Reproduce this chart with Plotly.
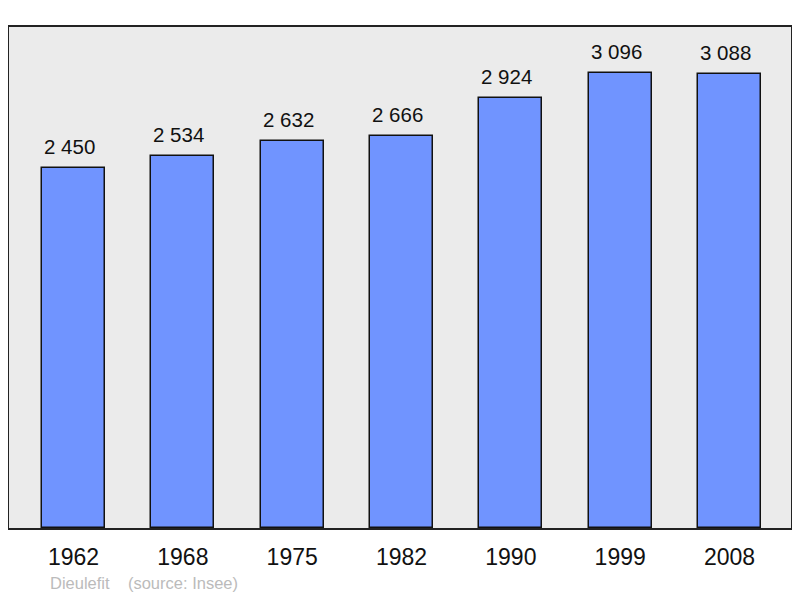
import plotly.graph_objects as go

years = ["1962", "1968", "1975", "1982", "1990", "1999", "2008"]
population = [2450, 2534, 2632, 2666, 2924, 3096, 3088]
value_labels = ["2 450", "2 534", "2 632", "2 666", "2 924", "3 096", "3 088"]
commune = "Dieulefit"
source = "(source: Insee)"

fig = go.Figure()
fig.add_trace(go.Bar(
    x=years, y=population, width=0.575,
    marker=dict(color="#7094ff", line=dict(color="#111111", width=1.5)),
    hoverinfo="skip",
))

# value labels above the bars (category axis -> use the serial index)
for i, (val, lab) in enumerate(zip(population, value_labels)):
    fig.add_annotation(x=i, y=val, text=lab, showarrow=False,
                       yanchor="bottom", yshift=8, xshift=-4,
                       font=dict(size=20.5, color="#111111"))

# page body has an 8px margin, so the figure is 792x590 placed at (8, 8)
fig.add_annotation(xref="paper", yref="paper", x=(48 - 9) / 782, y=-0.088,
                   xanchor="left", yanchor="top", showarrow=False,
                   text=commune + "&nbsp;&nbsp;&nbsp;&nbsp;" + source,
                   font=dict(size=16.5, color="#bbbbbb"))

fig.update_layout(
    width=792, height=590,
    margin=dict(l=1, r=9, t=19, b=70),
    paper_bgcolor="white", plot_bgcolor="#ebebeb",
    font=dict(family="Liberation Sans, Arial, sans-serif"),
    showlegend=False,
    bargap=0,
)
fig.update_xaxes(type="category", range=[-0.59, 6.5625], showgrid=False,
                 showline=True, mirror=True, linecolor="#222222", linewidth=2,
                 ticks="", tickfont=dict(size=23, color="#111111"),
                 ticklabelstandoff=7, fixedrange=True)
fig.update_yaxes(range=[0, 3410], showgrid=False, showticklabels=False,
                 showline=True, mirror=True, linecolor="#222222", linewidth=2,
                 zeroline=False, ticks="", fixedrange=True)

fig.write_html("out.html")
